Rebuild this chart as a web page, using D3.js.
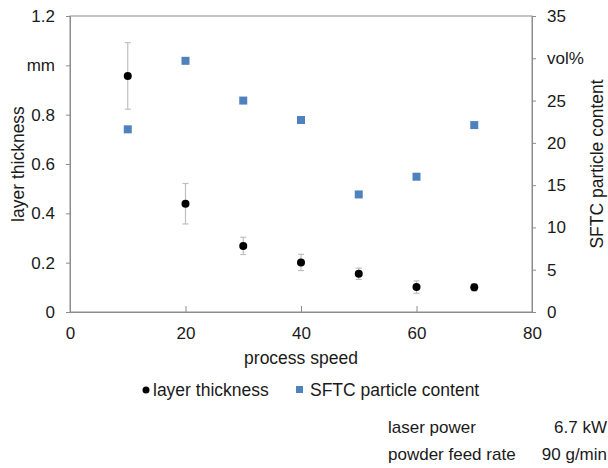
<!DOCTYPE html>
<html>
<head>
<meta charset="utf-8">
<script src="https://cdn.jsdelivr.net/npm/d3@7.9.0/dist/d3.min.js"></script>
<style>
  body { margin: 0; background: #fff; }
  svg text { font-family: "Liberation Sans", Arial, sans-serif; fill: #1a1a1a; }
</style>
</head>
<body>
<svg width="608" height="468"></svg>
<script>
// data
const speeds = [10, 20, 30, 40, 50, 60, 70];
const thickness = [0.957, 0.439, 0.268, 0.201, 0.155, 0.101, 0.100];
const thicknessErr = [0.135, 0.082, 0.035, 0.033, 0.023, 0.025, 0.015];
const sftc = [21.6, 29.7, 25.0, 22.7, 13.9, 16.0, 22.1];

const xTicks = [0, 20, 40, 60, 80];
const leftTicks = [0, 0.2, 0.4, 0.6, 0.8, 1.0, 1.2];
const leftLabels = ["0", "0.2", "0.4", "0.6", "0.8", "mm", "1.2"];
const rightTicks = [0, 5, 10, 15, 20, 25, 30, 35];
const rightLabels = ["0", "5", "10", "15", "20", "25", "vol%", "35"];

const params = [["laser power", "6.7 kW"], ["powder feed rate", "90 g/min"]];

const svg = d3.select("svg");
const plotL = 70, plotR = 532, plotT = 16, plotB = 312;
const axisColor = "#8c8c8c";
const blue = "#4f81bd";
const fs = 17.5;

const x = d3.scaleLinear().domain([0, 80]).range([plotL, plotR]);
const yL = d3.scaleLinear().domain([0, 1.2]).range([plotB, plotT]);
const yR = d3.scaleLinear().domain([0, 35]).range([plotB, plotT]);

// frame
svg.append("rect")
    .attr("x", plotL).attr("y", plotT)
    .attr("width", plotR - plotL).attr("height", plotB - plotT)
    .attr("fill", "none").attr("stroke", axisColor).attr("stroke-width", 1);

// left axis
const gl = svg.append("g").attr("transform", `translate(${plotL},0)`)
    .call(d3.axisLeft(yL).tickValues(leftTicks).tickSize(4).tickPadding(11)
        .tickFormat((d, i) => leftLabels[i]));
// right axis
const gr = svg.append("g").attr("transform", `translate(${plotR},0)`)
    .call(d3.axisRight(yR).tickValues(rightTicks).tickSize(4).tickPadding(11)
        .tickFormat((d, i) => rightLabels[i]));
// bottom axis, ticks point up into the plot
const gb = svg.append("g").attr("transform", `translate(0,${plotB})`)
    .call(d3.axisBottom(x).tickValues(xTicks).tickSize(-6).tickPadding(17)
        .tickFormat(d3.format("d")));

[gl, gr, gb].forEach(g => {
    g.select(".domain").attr("stroke", axisColor);
    g.selectAll(".tick line").attr("stroke", axisColor);
    g.selectAll(".tick text").attr("font-size", 17)
        .attr("font-family", "Liberation Sans, Arial, sans-serif").attr("fill", "#1a1a1a");
});
gb.selectAll(".tick text").attr("dy", "0.6em");

// axis titles
svg.append("text").attr("transform", `translate(24,${(plotT + plotB) / 2}) rotate(-90)`)
    .attr("text-anchor", "middle").attr("font-size", fs).text("layer thickness");
svg.append("text").attr("transform", `translate(603,${(plotT + plotB) / 2}) rotate(-90)`)
    .attr("text-anchor", "middle").attr("font-size", fs).text("SFTC particle content");
svg.append("text").attr("x", (plotL + plotR) / 2).attr("y", 364)
    .attr("text-anchor", "middle").attr("font-size", fs).text("process speed");

// error bars
const eb = svg.append("g").attr("stroke", "#bfbfbf").attr("stroke-width", 1.2);
speeds.forEach((s, i) => {
    const cx = x(s), y0 = yL(thickness[i] - thicknessErr[i]), y1 = yL(thickness[i] + thicknessErr[i]);
    eb.append("line").attr("x1", cx).attr("x2", cx).attr("y1", y0).attr("y2", y1);
    eb.append("line").attr("x1", cx - 3).attr("x2", cx + 3).attr("y1", y0).attr("y2", y0);
    eb.append("line").attr("x1", cx - 3).attr("x2", cx + 3).attr("y1", y1).attr("y2", y1);
});

// SFTC squares
svg.append("g").selectAll("rect").data(speeds).join("rect")
    .attr("x", d => x(d) - 4).attr("y", (d, i) => yR(sftc[i]) - 4)
    .attr("width", 8).attr("height", 8).attr("fill", blue);

// thickness circles
svg.append("g").selectAll("circle").data(speeds).join("circle")
    .attr("cx", d => x(d)).attr("cy", (d, i) => yL(thickness[i]))
    .attr("r", 4).attr("fill", "#000");

// legend
const lg = svg.append("g").attr("font-size", fs);
lg.append("circle").attr("cx", 146).attr("cy", 390).attr("r", 3.5).attr("fill", "#000");
lg.append("text").attr("x", 153).attr("y", 396).text("layer thickness");
lg.append("rect").attr("x", 296).attr("y", 386).attr("width", 7).attr("height", 7).attr("fill", blue);
lg.append("text").attr("x", 310).attr("y", 396).text("SFTC particle content");

// process parameters (values right-aligned so they stay inside the page)
const pg = svg.append("g").attr("font-size", 17);
params.forEach((p, i) => {
    pg.append("text").attr("x", 388).attr("y", 433 + i * 27).text(p[0]);
    pg.append("text").attr("x", 607).attr("y", 433 + i * 27)
        .attr("text-anchor", "end").text(p[1]);
});
</script>
</body>
</html>
